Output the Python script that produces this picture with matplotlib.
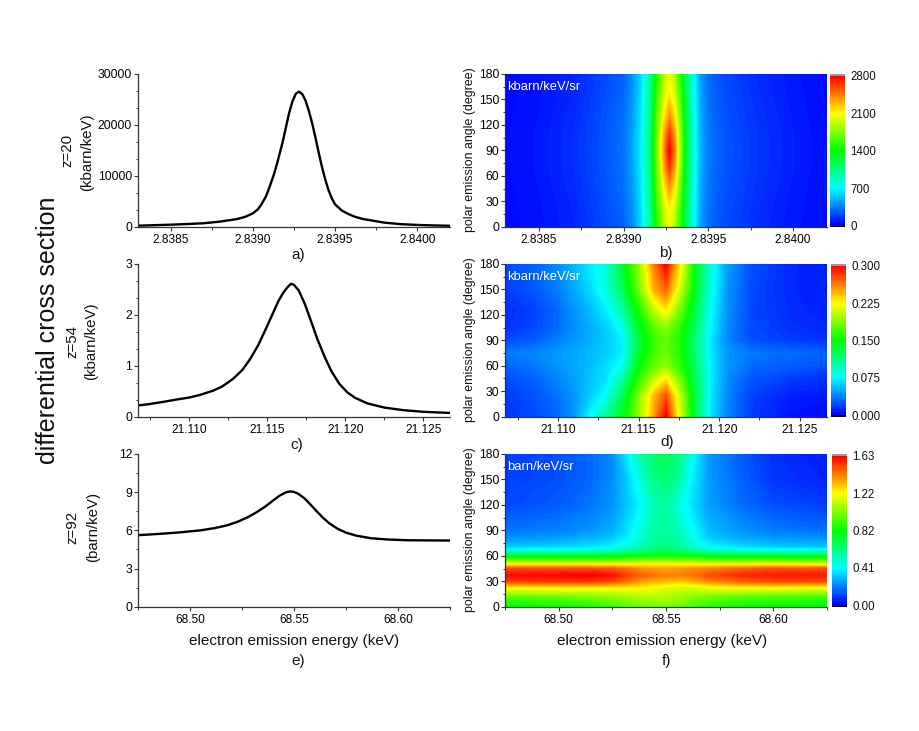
#!/usr/bin/env python3
import numpy as np
import matplotlib
matplotlib.use("Agg")
import matplotlib.pyplot as plt
from matplotlib.colors import LinearSegmentedColormap
from matplotlib.ticker import MultipleLocator, AutoMinorLocator, FormatStrFormatter

plt.rcParams["font.family"] = ["Liberation Sans", "DejaVu Sans"]

# ---------------------------------------------------------------------------
# data
# ---------------------------------------------------------------------------
a_x = [2.8383, 2.8384, 2.8385, 2.8386, 2.8387, 2.8388, 2.83885, 2.838905, 2.838955, 2.8390,
       2.83903, 2.83905, 2.83908, 2.8391, 2.83913, 2.83915, 2.83918, 2.8392, 2.83922, 2.83924,
       2.83926, 2.83928, 2.8393, 2.83932, 2.83934, 2.83936, 2.83938, 2.8394, 2.83942, 2.83944,
       2.83946, 2.83948, 2.8395, 2.83954, 2.83958, 2.83962, 2.83967, 2.8398, 2.8399, 2.8400,
       2.8401, 2.8402]
a_y = [200, 300, 400, 520, 680, 1000, 1250, 1513, 1965, 2630,
       3400, 4300, 6000, 7700, 10500, 12800, 16500, 19400, 22300, 24560,
       26080, 26530, 26080, 24800, 22800, 20400, 17600, 14600, 11800, 9300,
       7200, 5600, 4400, 3200, 2500, 1965, 1513, 800, 500, 350,
       250, 180]

c_x = [21.1067, 21.1074, 21.1082, 21.1092, 21.1100, 21.1107, 21.1115, 21.1121, 21.1128, 21.1134,
       21.1139, 21.1144, 21.1148, 21.1152, 21.1157, 21.1160, 21.1163, 21.1165, 21.1167, 21.1170,
       21.1174, 21.1178, 21.1182, 21.1187, 21.1191, 21.1196, 21.1201, 21.1206, 21.1214, 21.1225,
       21.1237, 21.1250, 21.1267]
c_y = [0.217, 0.243, 0.282, 0.335, 0.374, 0.427, 0.506, 0.591, 0.742, 0.919,
       1.136, 1.40, 1.66, 1.93, 2.27, 2.43, 2.55, 2.61, 2.59, 2.48,
       2.21, 1.87, 1.52, 1.15, 0.89, 0.645, 0.48, 0.37, 0.258, 0.175,
       0.125, 0.092, 0.07]

e_x = [68.475, 68.485, 68.495, 68.505, 68.512, 68.518, 68.523, 68.528, 68.532, 68.536,
       68.540, 68.543, 68.546, 68.548, 68.550, 68.552, 68.555, 68.558, 68.561, 68.564,
       68.567, 68.571, 68.575, 68.580, 68.587, 68.595, 68.605, 68.625]
e_y = [5.62, 5.72, 5.84, 6.0, 6.18, 6.4, 6.68, 7.05, 7.42, 7.85,
       8.35, 8.72, 8.98, 9.06, 9.02, 8.88, 8.52, 8.02, 7.48, 6.98,
       6.55, 6.12, 5.82, 5.58, 5.38, 5.28, 5.22, 5.2]

b_x = [2.8383, 2.8385, 2.8387, 2.8389, 2.8390, 2.83905, 2.8391, 2.83915, 2.8392, 2.83924,
       2.83927, 2.8393, 2.83935, 2.8394, 2.83945, 2.8395, 2.8396, 2.8398, 2.8400, 2.8402]
b_y = [0, 20, 45, 70, 90, 110, 135, 160, 180]
b_z = [
    [30, 58, 104, 210, 275, 380, 585, 900, 1500, 1840, 2050, 1870, 1310, 810, 455, 300, 205, 122, 72, 38],
    [32, 60, 110, 220, 290, 395, 600, 920, 1560, 1920, 2100, 1950, 1350, 830, 465, 310, 215, 130, 76, 40],
    [35, 65, 120, 235, 310, 420, 620, 950, 1650, 2100, 2350, 2120, 1420, 860, 480, 325, 225, 140, 82, 42],
    [40, 70, 128, 245, 325, 435, 640, 980, 1720, 2320, 2650, 2350, 1470, 890, 490, 335, 235, 148, 88, 45],
    [40, 70, 130, 250, 330, 440, 650, 1000, 1750, 2400, 2800, 2450, 1500, 900, 500, 340, 240, 150, 90, 45],
    [40, 70, 128, 245, 325, 435, 640, 980, 1720, 2320, 2650, 2350, 1470, 890, 490, 335, 235, 148, 88, 45],
    [35, 65, 120, 235, 310, 420, 620, 950, 1650, 2100, 2350, 2120, 1420, 860, 480, 325, 225, 140, 82, 42],
    [32, 60, 110, 220, 290, 395, 600, 920, 1560, 1920, 2100, 1950, 1350, 830, 465, 310, 215, 130, 76, 40],
    [30, 58, 104, 210, 275, 380, 585, 900, 1500, 1840, 2050, 1870, 1310, 810, 455, 300, 205, 122, 72, 38],
]

d_x = [21.1067, 21.1085, 21.1100, 21.1110, 21.1120, 21.1130, 21.1140, 21.1150, 21.1160, 21.1167,
       21.1175, 21.1185, 21.1195, 21.1205, 21.1220, 21.1245, 21.1267]
d_y = [0, 25, 45, 60, 75, 90, 105, 125, 150, 180]
d_z = [
    [.015, .022, .032, .045, .075, .105, .140, .190, .255, .300, .220, .130, .065, .040, .018, .006, .004],
    [.018, .025, .035, .045, .060, .078, .125, .185, .245, .275, .210, .130, .068, .040, .020, .010, .008],
    [.022, .030, .040, .048, .058, .068, .100, .160, .205, .228, .185, .125, .070, .042, .026, .018, .015],
    [.030, .036, .044, .050, .056, .066, .080, .145, .180, .190, .165, .120, .070, .045, .032, .028, .025],
    [.036, .040, .046, .050, .055, .062, .072, .135, .170, .180, .160, .115, .068, .045, .036, .032, .030],
    [.022, .028, .038, .045, .052, .060, .072, .130, .168, .178, .158, .115, .068, .040, .024, .018, .016],
    [.015, .022, .032, .042, .052, .062, .080, .140, .175, .190, .165, .120, .072, .042, .022, .015, .012],
    [.014, .020, .032, .044, .056, .070, .100, .155, .205, .228, .185, .130, .075, .044, .022, .013, .010],
    [.018, .026, .038, .050, .065, .085, .125, .180, .250, .270, .215, .140, .080, .045, .022, .012, .009],
    [.022, .030, .042, .055, .070, .085, .135, .190, .265, .300, .235, .145, .082, .047, .024, .012, .010],
]

f_x = [68.475, 68.50, 68.515, 68.525, 68.532, 68.538, 68.544, 68.55, 68.556, 68.562,
       68.57, 68.585, 68.60, 68.625]
f_y = [0, 12, 22, 30, 37, 45, 50, 55, 60, 65, 70, 80, 90, 120, 150, 180]
f_z = [
    [.80, .82, .85, .90, .95, .98, 1.00, 1.00, .98, .93, .87, .82, .80, .78],
    [.95, .97, 1.00, 1.03, 1.06, 1.08, 1.09, 1.08, 1.06, 1.02, .98, .95, .93, .92],
    [1.20, 1.22, 1.22, 1.22, 1.22, 1.21, 1.20, 1.17, 1.13, 1.14, 1.18, 1.20, 1.20, 1.18],
    [1.52, 1.53, 1.53, 1.50, 1.44, 1.38, 1.34, 1.32, 1.30, 1.33, 1.40, 1.46, 1.50, 1.50],
    [1.61, 1.62, 1.63, 1.60, 1.52, 1.47, 1.44, 1.42, 1.42, 1.44, 1.50, 1.56, 1.58, 1.58],
    [1.50, 1.50, 1.50, 1.48, 1.44, 1.40, 1.38, 1.36, 1.37, 1.39, 1.42, 1.46, 1.49, 1.49],
    [1.20, 1.20, 1.20, 1.20, 1.20, 1.21, 1.22, 1.22, 1.22, 1.21, 1.20, 1.20, 1.20, 1.18],
    [.95, .95, .95, .96, .97, .98, .99, 1.00, .99, .97, .96, .95, .95, .93],
    [.74, .74, .75, .76, .78, .80, .82, .83, .82, .79, .76, .74, .73, .72],
    [.52, .52, .53, .55, .58, .62, .66, .68, .65, .60, .55, .52, .51, .50],
    [.33, .35, .37, .40, .47, .54, .60, .62, .58, .50, .41, .36, .33, .32],
    [.24, .26, .29, .33, .39, .48, .56, .59, .55, .44, .33, .28, .25, .24],
    [.19, .21, .24, .28, .36, .46, .55, .57, .52, .42, .30, .24, .20, .18],
    [.12, .15, .19, .24, .32, .40, .52, .56, .46, .36, .26, .18, .13, .10],
    [.10, .13, .17, .23, .33, .46, .60, .64, .56, .39, .25, .16, .09, .06],
    [.10, .13, .17, .23, .38, .55, .65, .68, .62, .43, .25, .15, .08, .05],
]

b_ticks = [0, 700, 1400, 2100, 2800]
d_ticks = [0.0, 0.075, 0.15, 0.225, 0.3]
f_ticks = [0.0, 0.41, 0.82, 1.22, 1.63]

W, H = 919, 731
INK = "#333333"
cmap = LinearSegmentedColormap.from_list(
    "rainbow5", ["#0000ff", "#00ffff", "#00ff00", "#ffff00", "#ff0000"], N=128)

fig = plt.figure(figsize=(W / 100, H / 100), dpi=100)


def px_axes(left, top, right, bottom):
    return fig.add_axes([left / W, 1 - bottom / H, (right - left) / W, (bottom - top) / H])


def label(x, y, s, size, rotation=0, color="#111111"):
    fig.text(x / W, 1 - y / H, s, fontsize=size, rotation=rotation, color=color,
             ha="center", va="center")


def style(ax, xmajor):
    for side in ("top", "right"):
        ax.spines[side].set_visible(False)
    for side in ("left", "bottom"):
        ax.spines[side].set_color(INK)
        ax.spines[side].set_linewidth(0.9)
    ax.xaxis.set_major_locator(MultipleLocator(xmajor))
    ax.xaxis.set_minor_locator(AutoMinorLocator(2))
    ax.tick_params(which="major", length=3.2, width=0.8, color=INK, labelsize=8.6, pad=2)
    ax.tick_params(axis="y", which="major", labelsize=8.8, pad=1)
    ax.tick_params(which="minor", length=1.8, width=0.7, color=INK)


def line_panel(box, x, y, xlim, ylim, xmajor, ymajor, yminor, xfmt):
    ax = px_axes(*box)
    ax.plot(x, y, color="black", lw=1.7, solid_capstyle="round", solid_joinstyle="round")
    ax.set_xlim(*xlim)
    ax.set_ylim(*ylim)
    style(ax, xmajor)
    ax.yaxis.set_major_locator(MultipleLocator(ymajor))
    ax.yaxis.set_minor_locator(AutoMinorLocator(yminor))
    ax.xaxis.set_major_formatter(xfmt)
    return ax


def heat_panel(box, cbox, x, y, z, ticks, tickfmt, unit, xmajor, xfmt):
    ax = px_axes(*box)
    top = ticks[-1]
    levels = np.linspace(0, top, 129)
    ax.contourf(x, y, np.array(z), levels=levels, cmap=cmap, extend="both")
    ax.set_xlim(x[0], x[-1])
    ax.set_ylim(0, 180)
    style(ax, xmajor)
    ax.yaxis.set_major_locator(MultipleLocator(30))
    ax.yaxis.set_minor_locator(MultipleLocator(15))
    ax.xaxis.set_major_formatter(xfmt)
    ax.set_axisbelow(False)
    ax.text(0.008, 0.915, unit, transform=ax.transAxes, color="white", fontsize=9.4,
            ha="left", va="center")

    # colour scale with the small end caps
    cax = px_axes(*cbox)
    cax.pcolormesh([0, 1], levels, levels[:-1][:, None], cmap=cmap, vmin=0, vmax=top)
    span = top * 0.008
    cax.axhspan(top, top + 1.5 * span, color="#9a9a9a", lw=0)
    cax.axhspan(-span, 0, color="black", lw=0)
    cax.set_ylim(-span, top + 1.5 * span)
    cax.set_xlim(0, 1)
    cax.set_xticks([])
    cax.yaxis.tick_right()
    cax.set_yticks(ticks)
    cax.set_yticklabels([tickfmt % t for t in ticks])
    cax.tick_params(length=0, labelsize=8.3, pad=4, labelcolor="#111111")
    for sp in cax.spines.values():
        sp.set_visible(False)
    return ax


fmt4 = FormatStrFormatter("%.4f")
fmt3 = FormatStrFormatter("%.3f")
fmt2 = FormatStrFormatter("%.2f")

# ---------------------------------------------------------------------------
# left column: energy spectra
# ---------------------------------------------------------------------------
line_panel((138, 74, 450, 226.7), a_x, a_y, (2.8383, 2.8402), (0, 30000), 0.0005, 10000, 3, fmt4)
line_panel((138, 264, 450, 416.5), c_x, c_y, (21.1067, 21.1267), (0, 3), 0.005, 1, 3, fmt3)
line_panel((138, 454, 450, 606.7), e_x, e_y, (68.475, 68.625), (0, 12), 0.05, 3, 2, fmt2)

# ---------------------------------------------------------------------------
# right column: angle-resolved maps
# ---------------------------------------------------------------------------
heat_panel((505, 74, 827, 226.7), (830, 74, 845, 226.7), b_x, b_y, b_z,
           b_ticks, "%d", "kbarn/keV/sr", 0.0005, fmt4)
heat_panel((505, 264, 827, 416.5), (831, 264, 846, 416.5), d_x, d_y, d_z,
           d_ticks, "%.3f", "kbarn/keV/sr", 0.005, fmt3)
heat_panel((505, 454, 827, 606.7), (832, 454, 847, 606.7), f_x, f_y, f_z,
           f_ticks, "%.2f", "barn/keV/sr", 0.05, fmt2)

# ---------------------------------------------------------------------------
# free-standing labels
# ---------------------------------------------------------------------------
for x, y, s in [(298, 255, "a)"), (666, 253, "b)"), (297, 445, "c)"),
                (667, 442, "d)"), (298, 661, "e)"), (666, 661, "f)")]:
    label(x, y, s, 11)

label(294, 641, "electron emission energy (keV)", 11)
label(662, 641, "electron emission energy (keV)", 11)
for y in (150, 340, 530):
    label(470, y, "polar emission angle (degree)", 8.9, rotation=90)

label(67, 150, "z=20", 10.8, rotation=90)
label(87, 152, "(kbarn/keV)", 10.8, rotation=90)
label(72, 342, "z=54", 10.8, rotation=90)
label(91, 341, "(kbarn/keV)", 10.8, rotation=90)
label(72, 527, "z=92", 10.8, rotation=90)
label(93, 527, "(barn/keV)", 10.8, rotation=90)
label(48, 330, "differential cross section", 18, rotation=90)

fig.savefig("out.png", dpi=100, facecolor="white")
